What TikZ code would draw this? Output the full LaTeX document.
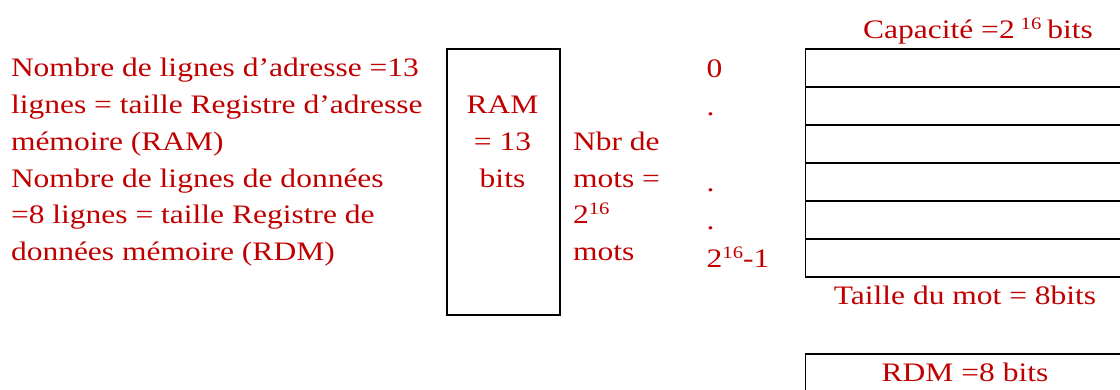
\documentclass[tikz,border=0pt]{standalone}
\usepackage{fontspec}
\setmainfont{Liberation Serif}[FakeStretch=1.18]
\definecolor{txt}{RGB}{192,0,0}
\newcommand{\mysup}[1]{\raisebox{0.36em}{\fontsize{17.5}{17.5}\selectfont #1}}
\begin{document}
\begin{tikzpicture}[x=1pt,y=-1pt,
  lbl/.style={inner sep=0pt, outer sep=0pt, text=txt, font=\fontsize{26.7}{36.7}\selectfont},
  lw/.style={lbl, anchor=base west},
  lc/.style={lbl, anchor=base},
  box/.style={draw=black, line width=1.6pt, inner sep=0pt, anchor=north west},
  row/.style={box, minimum width=330pt, minimum height=38pt}]
\useasboundingbox (0,0) rectangle (1120,390);
\clip (0,0) rectangle (1120,390);
% left description
\node[lw] (l1) at (11,77) {Nombre de lignes d’adresse =13};
\node[lw] (l2) at (11,113.7) {lignes = taille Registre d’adresse};
\node[lw] (l3) at (11,150.4) {mémoire (RAM)};
\node[lw] (l4) at (11,187.1) {Nombre de lignes de données};
\node[lw] (l5) at (11,223.8) {=8 lignes = taille Registre de};
\node[lw] (l6) at (11,260.5) {données mémoire (RDM)};
% RAM register box
\node[box, minimum width=113pt, minimum height=266pt] (ram) at (446,48) {};
\node[lc] (r1) at (502.5,113.7) {RAM};
\node[lc] (r2) at (502.5,150.4) {= 13};
\node[lc] (r3) at (502.5,187.1) {bits};
% number of words
\node[lw] (n1) at (573,150.4) {Nbr de};
\node[lw] (n2) at (573,187.1) {mots =};
\node[lw] (n3) at (573,223.8) {2\mysup{16}};
\node[lw] (n4) at (573,260.5) {mots};
% addresses
\node[lw] (a1) at (706.7,78) {0};
\node[lw] (a2) at (706.7,116) {.};
\node[lw] (a3) at (706.7,192) {.};
\node[lw] (a4) at (706.7,230) {.};
\node[lw] (a5) at (706.7,268) {2\mysup{16}-1};
% memory table
\node[lc] (cap) at (978,39) {Capacité =2\hspace{6pt}\mysup{16}\hspace{6pt}bits};
\node[row] (m1) at (804.7,48) {};
\node[row] (m2) at (804.7,86) {};
\node[row] (m3) at (804.7,124) {};
\node[row] (m4) at (804.7,162) {};
\node[row] (m5) at (804.7,200) {};
\node[row] (m6) at (804.7,238) {};
\node[lc] (taille) at (965,305) {Taille du mot = 8bits};
% RDM register
\node[box, minimum width=330pt, minimum height=60pt] (rdm) at (804.7,353) {};
\node[lc] (rdmt) at (965,381.7) {RDM =8 bits};
\end{tikzpicture}
\end{document}
